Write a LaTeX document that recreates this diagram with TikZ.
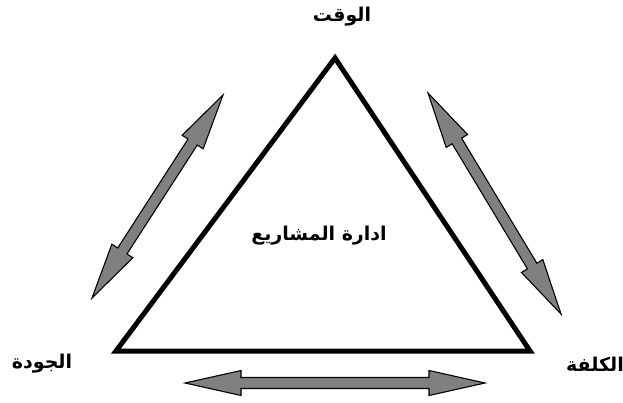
\documentclass[tikz,border=0pt]{standalone}
\usepackage{fontspec}
\usetikzlibrary{calc}
\TeXXeTstate=1
\newfontfamily\arabicfont[Script=Arabic]{DejaVu Sans}
\definecolor{arrowgray}{RGB}{128,128,128}
\newcommand\dblarrow[2]{%
  \draw[arrowbody] (#1)
    -- ($($(#1)!56pt!(#2)$)!12.5pt!90:(#2)$)
    -- ($($(#1)!56pt!(#2)$)!5.5pt!90:(#2)$)
    -- ($($(#2)!56pt!(#1)$)!5.5pt!-90:(#1)$)
    -- ($($(#2)!56pt!(#1)$)!12.5pt!-90:(#1)$)
    -- (#2)
    -- ($($(#2)!56pt!(#1)$)!12.5pt!90:(#1)$)
    -- ($($(#2)!56pt!(#1)$)!5.5pt!90:(#1)$)
    -- ($($(#1)!56pt!(#2)$)!5.5pt!-90:(#2)$)
    -- ($($(#1)!56pt!(#2)$)!12.5pt!-90:(#2)$)
    -- cycle;}
\tikzset{
  arrowbody/.style={draw=black, fill=arrowgray, line width=1.1pt, line join=miter},
  tri/.style={draw=black, line width=5pt, line join=miter},
  lbl/.style={font=\arabicfont\bfseries\fontsize{19}{22}\selectfont, inner sep=0pt}
}
\begin{document}
\begin{tikzpicture}[x=1pt,y=-1pt]
\useasboundingbox (0,0) rectangle (623,402);
\coordinate (top) at (335,58);
\coordinate (bl) at (116,351);
\coordinate (br) at (530,351);
\draw[tri] (top) -- (br) -- (bl) -- cycle;
\coordinate (la) at (223,95);
\coordinate (lb) at (92,298);
\coordinate (ra) at (428,93);
\coordinate (rb) at (561,314);
\coordinate (ba) at (185,383);
\coordinate (bb) at (485,383);
\dblarrow{la}{lb}
\dblarrow{ra}{rb}
\dblarrow{ba}{bb}
\node[lbl] (time) at (342,17) {\beginR الوقت\endR};
\node[lbl] (quality) at (42,364) {\beginR الجودة\endR};
\node[lbl] (cost) at (595,364) {\beginR الكلفة\endR};
\node[lbl] (pm) at (319,236) {\beginR ادارة المشاريع\endR};
\end{tikzpicture}
\end{document}
